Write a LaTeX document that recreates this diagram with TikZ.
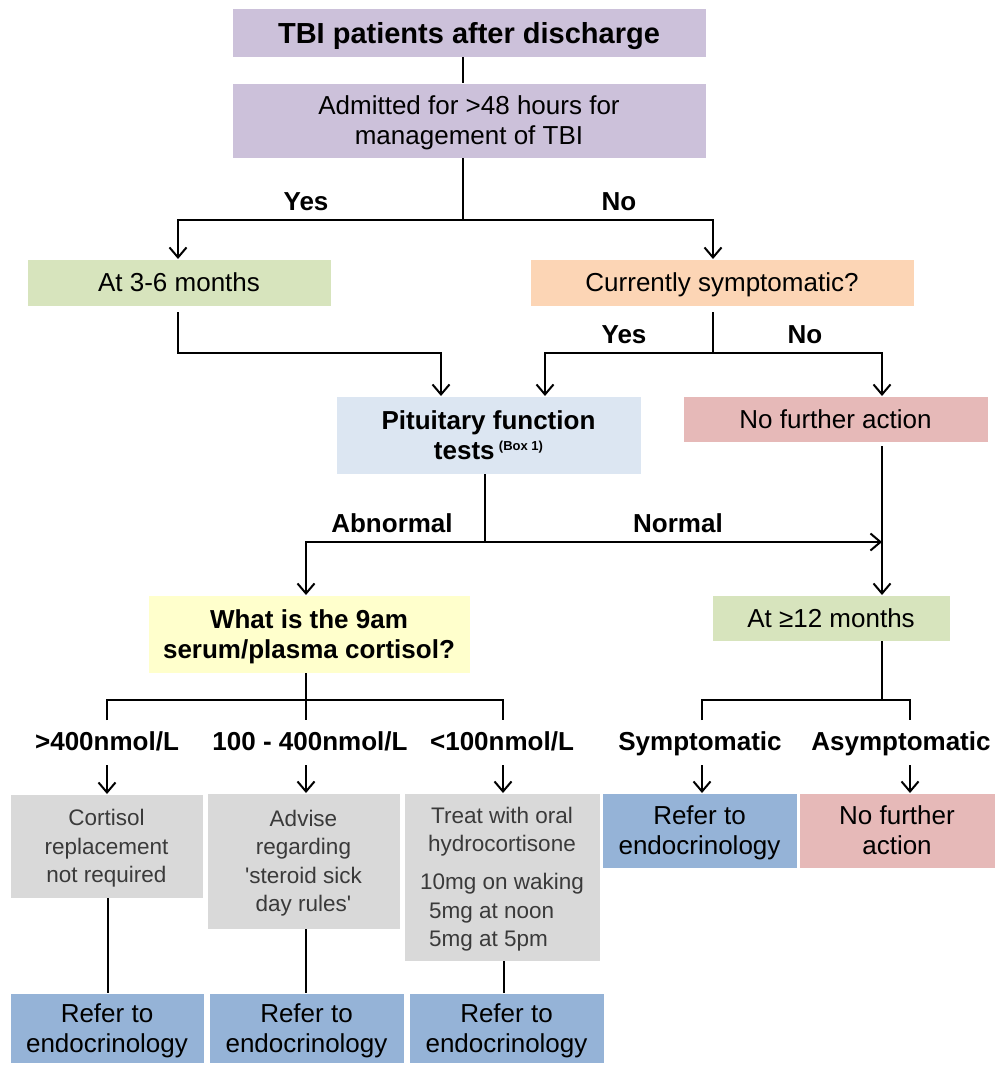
\documentclass[tikz,border=0pt]{standalone}
\usepackage{fontspec}
\setmainfont{Liberation Sans}
\usepackage{calc}
\usetikzlibrary{arrows.meta}
\definecolor{cPurple}{HTML}{CCC1DA}
\definecolor{cGreen}{HTML}{D7E4BD}
\definecolor{cOrange}{HTML}{FCD5B5}
\definecolor{cLBlue}{HTML}{DCE6F2}
\definecolor{cPink}{HTML}{E6B9B8}
\definecolor{cYellow}{HTML}{FFFFCC}
\definecolor{cGray}{HTML}{D9D9D9}
\definecolor{cBlue}{HTML}{95B3D7}
\definecolor{cGrayText}{HTML}{3A3A3A}
\begin{document}
\begin{tikzpicture}[x=1pt,y=-1pt,
  box/.style={draw=white, line width=0.8pt, inner sep=0pt, outer sep=0pt, align=center, text depth=0pt, font=\fontsize{26}{30}\selectfont},
  bbox/.style={box, font=\fontsize{26}{30}\selectfont\bfseries},
  gbox/.style={box, fill=cGray, text=cGrayText, font=\fontsize{22.5}{28.5}\selectfont},
  lbl/.style={anchor=base, inner sep=0pt, font=\fontsize{26}{30}\selectfont\bfseries},
  line/.style={line width=2pt},
  arr/.style={line width=2pt, -{Straight Barb[length=10pt,width=17pt]}},
]
\useasboundingbox (0,0) rectangle (995,1065);
\fill[white] (0,0) rectangle (995,1065);

% boxes
\node[box, fill=cPurple, minimum width=474pt, minimum height=49pt, font=\fontsize{29}{32}\selectfont\bfseries] (top) at (469,32.5) {TBI patients after discharge};
\node[box, fill=cPurple, minimum width=474pt, minimum height=75pt] (adm) at (469,120.5) {Admitted for >48 hours for\\management of TBI};
\node[box, fill=cGreen, minimum width=304pt, minimum height=47pt] (g36) at (179,282.5) {At 3-6 months};
\node[box, fill=cOrange, minimum width=384pt, minimum height=47pt] (cur) at (722,282.5) {Currently symptomatic?};
\node[bbox, fill=cLBlue, minimum width=305pt, minimum height=78pt] (pit) at (488.5,435) {Pituitary function\\tests\,\raisebox{9pt}{\fontsize{13}{13}\selectfont(Box 1)}};
\node[box, fill=cPink, minimum width=305pt, minimum height=46pt] (nfa) at (835.5,419) {No further action};
\node[bbox, fill=cYellow, minimum width=322pt, minimum height=78pt] (yel) at (309,634) {What is the 9am\\serum/plasma cortisol?};
\node[box, fill=cGreen, minimum width=238pt, minimum height=46pt] (at12) at (831,618) {At ≥12 months};
\node[gbox, minimum width=193pt, minimum height=104pt] (gr1) at (106.5,846) {Cortisol\\replacement\\not required};
\node[gbox, minimum width=193pt, minimum height=136pt] (gr2) at (303.5,861) {Advise\\regarding\\\textquotesingle steroid sick\\day rules\textquotesingle};
\node[gbox, minimum width=196pt, minimum height=168pt] (gr3) at (502,877) {Treat with oral\\hydrocortisone\\[9.5pt]10mg on waking\\\makebox[\widthof{10mg on waking}][l]{\hspace{9pt}5mg at noon}\\\makebox[\widthof{10mg on waking}][l]{\hspace{9pt}5mg at 5pm}};
\node[box, fill=cBlue, minimum width=195pt, minimum height=75pt] (refS) at (699.5,830.5) {Refer to\\endocrinology};
\node[box, fill=cPink, minimum width=196pt, minimum height=75pt] (nfa2) at (897,830.5) {No further\\action};
\node[box, fill=cBlue, minimum width=194pt, minimum height=70pt] (r1) at (107,1028) {Refer to\\endocrinology};
\node[box, fill=cBlue, minimum width=195pt, minimum height=70pt] (r2) at (306.5,1028) {Refer to\\endocrinology};
\node[box, fill=cBlue, minimum width=195pt, minimum height=70pt] (r3) at (506.5,1028) {Refer to\\endocrinology};

% labels
\node[lbl] (yes1) at (306,210) {Yes};
\node[lbl] (no1) at (619,210) {No};
\node[lbl] (yes2) at (624,343) {Yes};
\node[lbl] (no2) at (805,343) {No};
\node[lbl] (abn) at (392,532) {Abnormal};
\node[lbl] (nor) at (678,532) {Normal};
\node[lbl] (l1) at (107,750) {>400nmol/L};
\node[lbl] (l2) at (310,750) {100 - 400nmol/L};
\node[lbl] (l3) at (502,750) {<100nmol/L};
\node[lbl] (ls) at (700,750) {Symptomatic};
\node[lbl] (la) at (901,750) {Asymptomatic};

% coordinates
\coordinate (xA) at (463,0);
\coordinate (j1) at (463,220);
\coordinate (xg) at (178,0);
\coordinate (xc) at (713,0);
\coordinate (k1) at (441,353);
\coordinate (j2) at (713,353);
\coordinate (xpy) at (545,0);
\coordinate (xn) at (882,0);
\coordinate (j3) at (485,542);
\coordinate (xy) at (306,0);
\coordinate (j4) at (306,700);
\coordinate (d1) at (107,720);
\coordinate (d2) at (306,720);
\coordinate (d3) at (503,720);
\coordinate (j5) at (882,700);
\coordinate (e1) at (702,720);
\coordinate (e2) at (910,720);
\coordinate (a1) at (107,765);
\coordinate (a2) at (306,765);
\coordinate (a3) at (503,765);
\coordinate (a4) at (702,765);
\coordinate (a5) at (910,765);
\coordinate (xr1) at (108,0);
\coordinate (xr2) at (306,0);
\coordinate (xr3) at (504,0);

% connectors
\draw[line] (top.south -| xA) -- (adm.north -| xA);
\draw[line] (adm.south -| xA) -- (j1);
\draw[arr] (j1) -| (g36.north -| xg);
\draw[arr] (j1) -| (cur.north -| xc);
\draw[arr] ([yshift=-6pt]g36.south -| xg) |- (k1) -- (pit.north -| k1);
\draw[line] ([yshift=-6pt]cur.south -| j2) -- (j2);
\draw[arr] (j2) -| (pit.north -| xpy);
\draw[arr] (j2) -| (nfa.north -| xn);
\draw[line] (pit.south -| j3) -- (j3);
\draw[arr] (j3) -| (yel.north -| xy);
\draw[arr] (j3) -- (j3 -| xn);
\draw[arr] ([yshift=-4pt]nfa.south -| xn) -- (at12.north -| xn);
\draw[line] (yel.south -| j4) -- (j4);
\draw[line] (d1) |- (j4) -| (d3);
\draw[line] (j4) -- (d2);
\draw[line] (at12.south -| j5) -- (j5);
\draw[line] (e1) |- (j5) -| (e2);
\draw[arr] (a1) -- (gr1.north -| a1);
\draw[arr] (a2) -- (gr2.north -| a2);
\draw[arr] (a3) -- (gr3.north -| a3);
\draw[arr] (a4) -- (refS.north -| a4);
\draw[arr] (a5) -- (nfa2.north -| a5);
\draw[line] (gr1.south -| xr1) -- (r1.north -| xr1);
\draw[line] (gr2.south -| xr2) -- (r2.north -| xr2);
\draw[line] (gr3.south -| xr3) -- (r3.north -| xr3);
\end{tikzpicture}
\end{document}
